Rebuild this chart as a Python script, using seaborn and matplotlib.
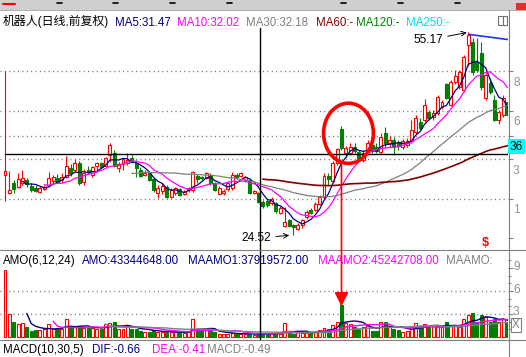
import numpy as np
import pandas as pd
import matplotlib
matplotlib.use("Agg")
import matplotlib.pyplot as plt
import seaborn as sns
from matplotlib.patches import Rectangle, Ellipse, ConnectionPatch
from matplotlib.lines import Line2D

# ---------------- data ----------------
opens = [33.59, 30.87, 32.38, 31.78, 32.38, 32.84, 31.93, 31.63, 31.02, 31.48,
         32.08, 32.69, 33.14, 32.84, 33.29, 34.65, 34.35, 35.41, 32.54, 34.35,
         33.59, 34.96, 35.41, 34.96, 36.62, 36.92, 34.65, 35.26, 35.41, 36.16,
         35.41, 34.35, 33.59, 33.90, 32.99, 30.87, 31.18, 31.78, 30.27, 30.87,
         31.48, 30.72, 31.33, 31.33, 33.44, 33.29, 33.14, 33.59, 32.38, 30.72,
         30.87, 31.48, 31.63, 33.59, 33.44, 32.84, 32.84, 30.87, 30.87, 29.51,
         29.66, 29.36, 29.36, 27.85, 25.88, 26.79, 26.03, 25.43, 26.03, 27.24,
         28.30, 28.30, 29.21, 30.27, 33.44, 32.69, 35.41, 40.55, 36.92, 36.92,
         37.83, 37.07, 35.86, 37.22, 38.13, 37.83, 37.07, 39.94, 38.43, 38.89,
         38.58, 37.83, 38.13, 38.74, 40.10, 41.61, 41.91, 43.12, 42.36, 42.97,
         43.88, 47.35, 44.18, 47.66, 46.90, 46.45, 53.25, 53.70, 50.68, 52.04,
         45.24, 47.50, 44.93, 41.91, 42.67, 44.63]
highs = [49.32, 34.20, 32.84, 33.90, 34.35, 33.14, 32.38, 32.08, 31.93, 32.08,
         34.05, 33.59, 33.75, 33.90, 36.47, 35.26, 36.01, 35.71, 34.50, 34.96,
         34.96, 35.56, 35.56, 36.32, 38.43, 37.37, 35.56, 36.16, 36.92, 36.62,
         35.86, 34.80, 34.35, 34.05, 33.14, 32.08, 32.38, 32.08, 31.63, 31.78,
         31.63, 31.33, 31.78, 34.20, 33.75, 33.44, 34.05, 33.90, 32.54, 31.93,
         31.48, 32.69, 34.05, 33.90, 34.05, 33.44, 33.14, 31.33, 31.02, 29.81,
         29.97, 30.27, 29.51, 28.91, 28.76, 26.94, 26.19, 26.34, 26.94, 28.30,
         28.60, 29.51, 30.57, 33.90, 33.90, 35.71, 37.68, 41.00, 37.98, 38.43,
         38.43, 37.37, 37.37, 38.89, 39.34, 38.43, 39.94, 40.85, 39.49, 39.34,
         38.89, 39.04, 39.19, 41.91, 42.67, 42.21, 45.09, 43.42, 43.42, 45.69,
         44.93, 47.50, 47.96, 49.47, 49.47, 51.74, 55.17, 54.31, 54.31, 53.70,
         49.02, 48.26, 45.69, 43.42, 45.69, 45.39]
lows = [29.66, 30.72, 30.87, 31.63, 32.08, 31.78, 31.02, 31.02, 30.87, 31.33,
        31.78, 32.38, 32.38, 32.54, 33.14, 33.44, 34.05, 32.08, 32.08, 33.75,
        33.29, 34.05, 34.65, 34.80, 35.56, 34.80, 34.05, 34.35, 35.11, 35.41,
        33.29, 33.29, 33.44, 32.69, 31.02, 30.12, 30.72, 30.12, 30.12, 30.57,
        30.42, 30.57, 31.02, 31.02, 32.38, 32.84, 32.99, 32.08, 31.18, 30.57,
        30.57, 31.18, 31.33, 32.99, 33.29, 32.54, 30.72, 30.72, 29.36, 28.60,
        28.76, 29.06, 27.85, 27.70, 25.73, 25.73, 24.52, 25.28, 25.58, 26.94,
        27.70, 28.15, 29.06, 29.97, 32.08, 32.54, 35.11, 37.37, 36.32, 36.62,
        36.92, 35.86, 35.56, 36.62, 36.92, 36.92, 36.77, 37.83, 37.68, 36.62,
        37.37, 37.53, 37.83, 38.43, 39.79, 40.40, 41.61, 41.91, 41.91, 42.67,
        43.57, 45.09, 44.03, 47.35, 46.60, 46.14, 50.08, 48.71, 49.17, 46.45,
        44.93, 45.84, 41.76, 41.31, 42.36, 41.91]
closes = [34.20, 31.33, 31.48, 32.99, 33.14, 32.23, 31.33, 31.18, 31.63, 31.78,
          33.14, 33.29, 32.54, 33.29, 34.96, 33.90, 35.41, 32.38, 33.90, 34.05,
          34.80, 35.41, 34.80, 36.16, 38.13, 34.96, 35.26, 36.01, 35.86, 35.56,
          34.65, 33.44, 33.90, 32.84, 31.33, 31.63, 31.93, 30.27, 31.33, 31.63,
          30.57, 31.02, 31.63, 34.05, 32.99, 33.14, 33.90, 32.38, 31.33, 31.63,
          31.18, 32.38, 33.59, 33.29, 33.90, 33.29, 30.87, 31.18, 29.51, 28.91,
          29.06, 29.97, 28.15, 28.60, 26.49, 25.88, 25.73, 26.03, 26.79, 28.00,
          27.85, 29.21, 30.27, 33.44, 32.99, 35.41, 37.53, 37.68, 37.68, 37.83,
          37.22, 36.16, 36.92, 38.43, 37.37, 37.22, 39.34, 38.43, 38.89, 37.83,
          37.98, 38.74, 38.74, 40.40, 42.21, 40.70, 44.18, 42.21, 42.97, 45.39,
          44.63, 45.24, 47.66, 48.56, 49.17, 51.44, 54.76, 49.17, 49.47, 46.90,
          48.71, 46.14, 41.91, 43.12, 45.24, 42.67]
# turnover (AMO), units of 1e8
amount = [8.7, 3.0, 1.9, 1.7, 1.8, 1.3, 0.8, 0.9, 0.9, 1.0,
          1.7, 1.0, 1.0, 1.1, 2.3, 1.3, 1.3, 1.4, 1.2, 1.2,
          1.2, 1.1, 1.0, 1.7, 1.8, 1.9, 1.1, 1.1, 1.5, 1.0,
          1.1, 0.8, 0.7, 0.7, 0.9, 0.7, 0.6, 0.7, 0.6, 0.6,
          0.7, 0.5, 0.7, 2.3, 1.1, 0.9, 0.9, 0.8, 0.6, 0.4,
          0.4, 0.45, 0.5, 0.45, 0.4, 0.35, 0.4, 0.25, 0.43, 0.5,
          0.45, 0.45, 0.55, 0.45, 1.8, 0.55, 0.45, 0.65, 0.55, 0.55,
          0.65, 0.65, 0.9, 1.2, 1.0, 1.5, 2.0, 4.2, 1.8, 1.7,
          1.3, 1.1, 1.3, 1.5, 0.8, 0.8, 2.0, 2.0, 1.3, 1.0,
          0.9, 0.7, 0.8, 1.3, 1.8, 1.4, 1.7, 1.3, 1.5, 1.4,
          1.3, 1.9, 1.5, 1.5, 1.3, 2.3, 2.9, 3.1, 2.0, 2.9,
          2.6, 2.0, 2.3, 2.0, 2.3, 1.9]

grid_prices = [49.32, 43.27, 39.49, 36.01, 29.97]
price_ticks = [49.32, 43.27, 39.49, 36.01, 29.97, 24.07]
price_tick_text = ["8", "6", "3", "1"]
amount_grid = [3, 6]
amount_ticks = [3, 6, 9]
amount_minor = [1, 2, 4, 5, 7, 8, 10]

high_idx, high_label = 106, "55.17"
low_idx, low_label = 66, "24.52"
signal_idx = 77
cursor_idx, cursor_price, cursor_label = 58.35, 36.77, "36"
trend_x = [106.2, 115.4]
trend_y = [54.85, 54.05]
circle_center = (78.6, 39.9)
circle_size = (11.4, 9.1)

title_main = [("机器人(日线,前复权)", "#000000", 3), ("MA5:31.47", "#000080", 115),
              ("MA10:32.02", "#ff00ff", 177), ("MA30:32.18", "#808080", 246),
              ("MA60:-", "#800000", 316), ("MA120:-", "#008000", 356),
              ("MA250:-", "#00e0e0", 406)]
title_amo = [("AMO(6,12,24)", "#000000", 3), ("AMO:43344648.00", "#000080", 82),
             ("MAAMO1:37919572.00", "#000080", 188), ("MAAMO2:45242708.00", "#ff00ff", 318),
             ("MAAMO:", "#808080", 446)]
title_macd = [("MACD(10,30,5)", "#000000", 3), ("DIF:-0.66", "#000080", 92),
              ("DEA:-0.41", "#ff00ff", 152), ("MACD:-0.49", "#808080", 207)]

# ---------------- style ----------------
sns.set_theme(style="white")
plt.rcParams["font.family"] = ["Liberation Sans", "Noto Sans CJK SC", "DejaVu Sans"]
plt.rcParams["lines.scale_dashes"] = False

W, H = 526, 357
fig = plt.figure(figsize=(W / 100, H / 100), dpi=100)
fig.patch.set_facecolor("white")

def fx(x):
    return x / W

def fy(y):
    return 1 - y / H

RED, GREEN = "#ff0000", "#008000"
FS = 8.3
FS_CJK = 8.6

ax = fig.add_axes([0, fy(250), 508 / W, 240 / H])
ax2 = fig.add_axes([0, fy(340), 508 / W, 90 / H])

df = pd.DataFrame({"idx": np.arange(len(closes)), "open": opens, "high": highs,
                   "low": lows, "close": closes, "amount": amount})
for n in (5, 10, 30, 60):
    df[f"MA{n}"] = df["close"].rolling(n).mean()
for k, n in ((1, 6), (2, 12), (3, 24)):
    df[f"MAAMO{k}"] = df["amount"].rolling(n).mean()

up = df["close"] >= df["open"]
edge = np.where(up, RED, GREEN)
face = np.where(up, "white", GREEN)

# candles
ax.vlines(df["idx"], df["low"], df["high"], colors=edge, lw=0.8, zorder=2)
body_h = (df["close"] - df["open"]).abs().clip(lower=0.05)
ax.bar(df["idx"], body_h, bottom=df[["open", "close"]].min(axis=1), width=0.68,
       color=face, edgecolor=edge, linewidth=0.8, zorder=3)

for col, c, lw in (("MA5", "#000080", 0.9), ("MA10", "#ff00ff", 0.9),
                   ("MA30", "#808080", 0.9), ("MA60", "#800000", 1.2)):
    sns.lineplot(data=df, x="idx", y=col, ax=ax, color=c, lw=lw, zorder=4)

for p in grid_prices:
    ax.axhline(p, color="#707070", lw=1.0, ls=(0, (0.75, 2.4)), zorder=1)

# cursor
ax.axhline(cursor_price, xmin=5 / 508, color="black", lw=1.0, zorder=5)
ax.axvline(cursor_idx, ymax=(250 - 28) / 240, color="black", lw=1.0, zorder=5)
ax2.axvline(cursor_idx, color="black", lw=1.0, zorder=5)

# trend line
ax.plot(trend_x, trend_y, color="#1a33ff", lw=1.2, zorder=5)

# circle
ax.add_patch(Ellipse(circle_center, circle_size[0], circle_size[1], fill=False,
                     ec=RED, lw=2.6, zorder=6))

# annotations
ax.annotate(high_label, xy=(high_idx, highs[high_idx]), xytext=(-18, -5.5),
            textcoords="offset points", ha="right", va="center", fontsize=FS + 0.3,
            color="black", arrowprops=dict(arrowstyle="->", color="black", lw=0.7,
                                           shrinkA=1, shrinkB=1))
ax.annotate(low_label, xy=(low_idx, lows[low_idx]), xytext=(-16, -2.2),
            textcoords="offset points", ha="right", va="center", fontsize=FS + 0.3,
            color="black", arrowprops=dict(arrowstyle="->", color="black", lw=0.7,
                                           shrinkA=1, shrinkB=3))

ax.set_xlim(-5 / 4.37, 503 / 4.37)
ax.set_ylim(22.254, 58.542)
ax.set_xlabel("")
ax.set_ylabel("")
ax.set_xticks([])
ax.yaxis.tick_right()
ax.set_yticks(price_ticks)
ax.set_yticklabels([])
ax.tick_params(axis="y", length=3.6, width=0.8, color="#808080", direction="out", right=True)
for s in ax.spines.values():
    s.set_visible(False)
ax.patch.set_alpha(0)

# volume
ax2.bar(df["idx"], df["amount"], width=0.68, color=face, edgecolor=edge,
        linewidth=0.8, zorder=3)
for col, c in (("MAAMO1", "#000080"), ("MAAMO2", "#ff00ff"), ("MAAMO3", "#808080")):
    sns.lineplot(data=df, x="idx", y=col, ax=ax2, color=c, lw=1.0, zorder=4)
for v in amount_grid:
    ax2.axhline(v, color="#707070", lw=1.0, ls=(0, (0.75, 2.4)), zorder=1)
ax2.set_xlim(-5 / 4.37, 503 / 4.37)
ax2.set_ylim(-0.391, 11.343)
ax2.set_xlabel("")
ax2.set_ylabel("")
ax2.set_xticks([])
ax2.yaxis.tick_right()
ax2.set_yticks(amount_ticks)
ax2.set_yticks(amount_minor, minor=True)
ax2.set_yticklabels([])
ax2.tick_params(axis="y", which="major", length=3.6, width=0.8, color="#808080", right=True)
ax2.tick_params(axis="y", which="minor", length=2.2, width=0.8, color="#808080", right=True)
for s in ax2.spines.values():
    s.set_visible(False)
ax2.patch.set_alpha(0)

# signal arrow from circle down to the volume bar
con = ConnectionPatch(xyA=(signal_idx, circle_center[1] - circle_size[1] / 2), coordsA=ax.transData,
                      xyB=(signal_idx, amount[signal_idx] - 0.2), coordsB=ax2.transData,
                      arrowstyle="-|>,head_length=0.7,head_width=0.35", mutation_scale=12,
                      color=RED, lw=1.2, zorder=7)
fig.add_artist(con)

# ---------------- frame decorations ----------------
fig.add_artist(Rectangle((0, fy(10)), 1, 10 / H, transform=fig.transFigure,
                         fc="#cfcfcf", ec="none"))
fig.add_artist(Line2D([0, 1], [fy(9.5)] * 2, transform=fig.transFigure, color="#a0a0a0", lw=0.6))
for xm in (57, 113, 170, 227, 341, 398, 455):
    fig.add_artist(Line2D([fx(xm), fx(xm + 5)], [fy(3)] * 2, transform=fig.transFigure,
                          color="black", lw=1.2))
fig.add_artist(Line2D([fx(3), fx(15)], [fy(4)] * 2, transform=fig.transFigure, color=RED, lw=1.5))
fig.add_artist(Rectangle((fx(516), fy(10)), 10 / W, 7 / H, transform=fig.transFigure,
                         fc="#e03030", ec="none"))

for yy in (250, 340):
    fig.add_artist(Line2D([0, 1], [fy(yy)] * 2, transform=fig.transFigure, color="#808080", lw=0.8))
fig.add_artist(Line2D([fx(508.5)] * 2, [fy(10), 0], transform=fig.transFigure, color="#808080", lw=0.8))

# icon at top right of title
fig.add_artist(Rectangle((fx(498), fy(25)), 9 / W, 9 / H, transform=fig.transFigure,
                         fill=False, ec="#707070", lw=0.8))
fig.add_artist(Line2D([fx(503)] * 2, [fy(25), fy(16)], transform=fig.transFigure, color="#707070", lw=0.8))

# right-axis label fragments
for t, yy in zip(price_tick_text, (83, 122, 171, 210)):
    fig.text(fx(513), fy(yy), t, color="#909090", fontsize=FS + 0.3, ha="left", va="center")
for t, yy in (("9", 267), ("6", 290), ("3", 312)):
    fig.text(fx(513), fy(yy), t, color="#909090", fontsize=FS + 0.3, ha="left", va="center")
fig.text(fx(512), fy(325), "X", color="#808080", fontsize=FS, ha="left", va="center",
         bbox=dict(boxstyle="square,pad=0.12", fc="white", ec="#808080", lw=0.8))

fig.text(fx(510), fy(146.5), cursor_label, color="black", fontsize=FS + 0.3, ha="left", va="center",
         bbox=dict(boxstyle="square,pad=0.15", fc="#00ffff", ec="none"))

fig.text(fx(485), fy(243), "$", color=RED, fontsize=9, fontweight="bold", ha="center", va="center")

for row, yb in ((title_main, 25.5), (title_amo, 264), (title_macd, 353)):
    for s, c, x in row:
        size = FS_CJK if any(ord(ch) > 0x2E80 for ch in s) else FS
        fig.text(fx(x), fy(yb), s, color=c, fontsize=size, ha="left", va="baseline")

fig.savefig("out.png", dpi=100)
